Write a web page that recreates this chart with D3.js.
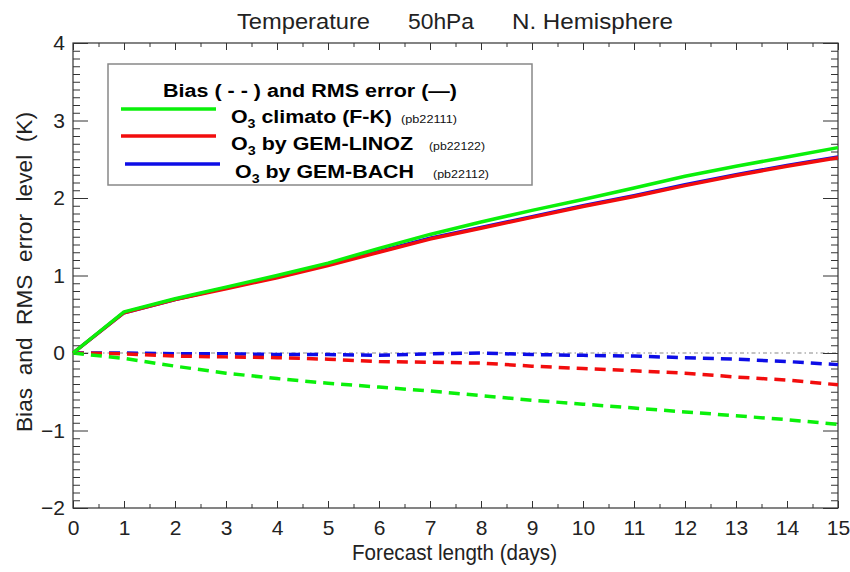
<!DOCTYPE html>
<html>
<head>
<meta charset="utf-8">
<script src="https://cdn.jsdelivr.net/npm/d3@7"></script>
<style>
  html, body { margin: 0; padding: 0; background: #fff; }
  svg { display: block; }
  .hv { font-family: "Liberation Sans", "DejaVu Sans", sans-serif; fill: #222; }
  .lg { font-family: "Liberation Sans", Arial, sans-serif; font-weight: bold; fill: #000; }
  .lgs { font-family: "Liberation Sans", Arial, sans-serif; font-weight: normal; fill: #111; }
</style>
</head>
<body>
<script>
// Forecast days
const days = [0, 1, 2, 3, 4, 5, 6, 7, 8, 9, 10, 11, 12, 13, 14, 15];

// RMS error (K), solid lines
const rmsClimato = [0, 0.53, 0.70, 0.85, 1.00, 1.16, 1.35, 1.53, 1.69, 1.84, 1.98, 2.13, 2.28, 2.41, 2.53, 2.65];
const rmsLinoz   = [0, 0.52, 0.69, 0.83, 0.97, 1.13, 1.30, 1.47, 1.61, 1.75, 1.89, 2.02, 2.16, 2.29, 2.41, 2.52];
const rmsBach    = [0, 0.52, 0.69, 0.84, 0.98, 1.14, 1.31, 1.48, 1.62, 1.76, 1.90, 2.03, 2.17, 2.30, 2.42, 2.53];

// Bias (K), dashed lines
const biasClimato = [0, -0.07, -0.17, -0.26, -0.33, -0.39, -0.44, -0.49, -0.55, -0.61, -0.66, -0.71, -0.76, -0.81, -0.86, -0.92];
const biasLinoz   = [0, -0.01, -0.04, -0.05, -0.06, -0.08, -0.11, -0.12, -0.13, -0.17, -0.20, -0.23, -0.26, -0.31, -0.35, -0.41];
const biasBach    = [0, 0.00, -0.01, -0.01, -0.02, -0.02, -0.03, -0.01, 0.00, -0.02, -0.03, -0.04, -0.06, -0.08, -0.11, -0.15];

// Axis ticks
const xTicks = days;
const yTicks = [-2, -1, 0, 1, 2, 3, 4];
const yTickLabels = ["\u22122", "\u22121", "0", "1", "2", "3", "4"];

// Legend entries
const legendNames = ["climato (F-K)", "by GEM-LINOZ", "by GEM-BACH"];
const legendRuns = ["(pb22111)", "(pb22122)", "(pb22112)"];
const seriesColors = ["#0af00a", "#f20d0d", "#0d0de6"];

const W = 850, H = 572;
const svg = d3.select("body").append("svg").attr("width", W).attr("height", H);

const x = d3.scaleLinear().domain([0, 15]).range([73, 838]);
const y = d3.scaleLinear().domain([-2, 4]).range([508, 43]);

// Title, three words spread across the top
const titleParts = [
  { t: "Temperature", x0: 237, w: 133 },
  { t: "50hPa", x0: 408, w: 66 },
  { t: "N. Hemisphere", x0: 512, w: 161 }
];
titleParts.forEach(p => {
  svg.append("text").attr("class", "hv").attr("x", p.x0).attr("y", 29)
    .attr("font-size", 22).attr("textLength", p.w).attr("lengthAdjust", "spacingAndGlyphs")
    .text(p.t);
});

// Zero reference line
svg.append("line")
  .attr("x1", x(0)).attr("x2", x(15)).attr("y1", y(0)).attr("y2", y(0))
  .attr("stroke", "#888").attr("stroke-width", 1.2).attr("stroke-dasharray", "4,3,1.5,3");

// Axes (ticks point inward)
const minorX = d3.range(0.5, 15, 1);
const minorY = d3.range(-20, 41).map(d => d / 10).filter(d => !yTicks.includes(d));

function styleAxis(g) {
  g.select(".domain").remove();
  g.selectAll(".tick line").attr("stroke", "#333").attr("stroke-width", 1);
  g.selectAll("text").attr("class", "hv").attr("font-size", 21).attr("fill", "#222");
}

svg.append("g").attr("transform", `translate(0,${y(-2)})`)
  .call(d3.axisBottom(x).tickValues(xTicks).tickSize(-7).tickPadding(12).tickFormat(d3.format("d")))
  .call(styleAxis);
svg.append("g").attr("transform", `translate(0,${y(-2)})`)
  .call(d3.axisBottom(x).tickValues(minorX).tickSize(-4).tickFormat(""))
  .call(styleAxis);
svg.append("g").attr("transform", `translate(0,${y(4)})`)
  .call(d3.axisTop(x).tickValues(xTicks).tickSize(-7).tickFormat(""))
  .call(styleAxis);
svg.append("g").attr("transform", `translate(0,${y(4)})`)
  .call(d3.axisTop(x).tickValues(minorX).tickSize(-4).tickFormat(""))
  .call(styleAxis);

svg.append("g").attr("transform", `translate(${x(0)},0)`)
  .call(d3.axisLeft(y).tickValues(yTicks).tickSize(-15).tickPadding(8).tickFormat((d, i) => yTickLabels[i]))
  .call(styleAxis);
svg.append("g").attr("transform", `translate(${x(0)},0)`)
  .call(d3.axisLeft(y).tickValues(minorY).tickSize(-7).tickFormat(""))
  .call(styleAxis);
svg.append("g").attr("transform", `translate(${x(15)},0)`)
  .call(d3.axisRight(y).tickValues(yTicks).tickSize(-15).tickFormat(""))
  .call(styleAxis);
svg.append("g").attr("transform", `translate(${x(15)},0)`)
  .call(d3.axisRight(y).tickValues(minorY).tickSize(-7).tickFormat(""))
  .call(styleAxis);

// Plot frame
svg.append("rect")
  .attr("x", x(0)).attr("y", y(4)).attr("width", x(15) - x(0)).attr("height", y(-2) - y(4))
  .attr("fill", "none").attr("stroke", "#333").attr("stroke-width", 1.2);

// Axis titles
svg.append("text").attr("class", "hv").attr("x", 352).attr("y", 560)
  .attr("font-size", 22).attr("textLength", 205).attr("lengthAdjust", "spacingAndGlyphs")
  .text("Forecast length (days)");
svg.append("text").attr("class", "hv")
  .attr("transform", `translate(32,432) rotate(-90)`)
  .attr("font-size", 22).attr("textLength", 320).attr("lengthAdjust", "spacingAndGlyphs")
  .attr("xml:space", "preserve").style("white-space", "pre")
  .text("Bias  and  RMS  error  level  (K)");

// Series lines
const line = d3.line().x((d, i) => x(days[i])).y(d => y(d));
const bias = [biasClimato, biasLinoz, biasBach];
const rms = [rmsClimato, rmsLinoz, rmsBach];
const drawOrder = [2, 1, 0];

drawOrder.forEach(k => {
  svg.append("path").datum(bias[k]).attr("d", line)
    .attr("fill", "none").attr("stroke", seriesColors[k]).attr("stroke-width", 3.5)
    .attr("stroke-dasharray", "11,7");
});
drawOrder.forEach(k => {
  svg.append("path").datum(rms[k]).attr("d", line)
    .attr("fill", "none").attr("stroke", seriesColors[k]).attr("stroke-width", 3.5)
    .attr("stroke-linejoin", "round");
});

// Legend
const lg = svg.append("g");
lg.append("rect").attr("x", 108).attr("y", 64).attr("width", 424).attr("height", 121)
  .attr("fill", "#fff").attr("stroke", "#888").attr("stroke-width", 1.5);
lg.append("text").attr("class", "lg").attr("x", 163).attr("y", 97)
  .attr("font-size", 18).attr("textLength", 294).attr("lengthAdjust", "spacingAndGlyphs")
  .text("Bias ( - - ) and RMS error (\u2014)");

const rowY = [109, 136, 164];
const lineX0 = [121, 121, 125];
const textX = [231, 231, 235];
const textW = [161, 182, 179];
const runX = [401, 429, 433];
legendNames.forEach((name, i) => {
  lg.append("line").attr("x1", lineX0[i]).attr("x2", lineX0[i] + 95)
    .attr("y1", rowY[i]).attr("y2", rowY[i])
    .attr("stroke", seriesColors[i]).attr("stroke-width", 3.5);
  const t = lg.append("text").attr("class", "lg").attr("x", textX[i]).attr("y", rowY[i] + 14)
    .attr("font-size", 18).attr("textLength", textW[i]).attr("lengthAdjust", "spacingAndGlyphs");
  t.append("tspan").text("O");
  t.append("tspan").attr("font-size", 12).attr("dy", 5).text("3");
  t.append("tspan").attr("dy", -5).text(" " + name);
  lg.append("text").attr("class", "lgs").attr("x", runX[i]).attr("y", rowY[i] + 14)
    .attr("font-size", 11.5).attr("textLength", 56).attr("lengthAdjust", "spacingAndGlyphs")
    .text(legendRuns[i]);
});
</script>
</body>
</html>
